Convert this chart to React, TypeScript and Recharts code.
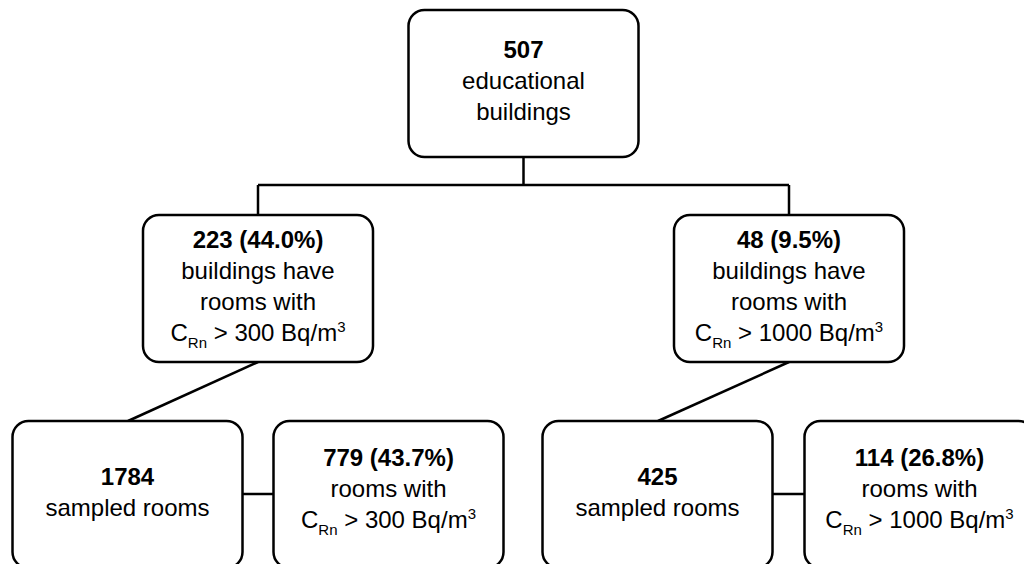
import React from 'react';
import { ScatterChart, Scatter, XAxis, YAxis, ReferenceLine } from 'recharts';

// ---- data ----
const nodeIds = ['all', 'bld300', 'bld1000', 'rooms300', 'hit300', 'rooms1000', 'hit1000'];
const nodeHeads = ['507', '223 (44.0%)', '48 (9.5%)', '1784', '779 (43.7%)', '425', '114 (26.8%)'];
const nodeLines: string[][] = [
  ['educational', 'buildings'],
  ['buildings have', 'rooms with'],
  ['buildings have', 'rooms with'],
  ['sampled rooms'],
  ['rooms with'],
  ['sampled rooms'],
  ['rooms with'],
];
const nodeThresholds: (number | null)[] = [null, 300, 1000, null, 300, null, 1000];

// ---- layout (diagram coordinates, px-like units) ----
const nodeX = [523.5, 258, 789, 127.5, 388.5, 657.5, 919.5];
const nodeY = [83.5, 288.5, 288.5, 494.5, 494.5, 494.5, 494.5];
const nodeTextShift = [-3, -2, -2, -2, -6, -2, -6];
const BOX_W = 230;
const BOX_H = 147;

const edges: [number, number, number, number][] = [
  [523.5, 157, 523.5, 185],
  [258, 185, 789, 185],
  [258, 185, 258, 215],
  [789, 185, 789, 215],
  [258, 362, 128, 421],
  [789, 362, 658, 421],
  [242.5, 494, 273.5, 494],
  [772.5, 494, 804.5, 494],
];

const nodes = nodeIds.map((id, i) => ({
  id,
  x: nodeX[i],
  y: nodeY[i],
  shift: nodeTextShift[i],
  head: nodeHeads[i],
  lines: nodeLines[i],
  threshold: nodeThresholds[i],
}));

const FONT = '"Liberation Sans", Arial, Helvetica, sans-serif';
const FS = 24;
const LH = 31;

const NodeBox = (props: any) => {
  const { cx, cy, payload } = props;
  const lineCount = 1 + payload.lines.length + (payload.threshold != null ? 1 : 0);
  const first = cy - ((lineCount - 1) / 2) * LH + 8 + payload.shift;
  const items: React.ReactNode[] = [];
  items.push(
    <text key="h" x={cx} y={first} textAnchor="middle" fontFamily={FONT} fontSize={FS} fontWeight="bold" fill="#000">
      {payload.head}
    </text>
  );
  payload.lines.forEach((l: string, i: number) => {
    items.push(
      <text key={'l' + i} x={cx} y={first + (i + 1) * LH} textAnchor="middle" fontFamily={FONT} fontSize={FS} fill="#000">
        {l}
      </text>
    );
  });
  if (payload.threshold != null) {
    const y = first + (lineCount - 1) * LH;
    items.push(
      <text key="t" x={cx} y={y} textAnchor="middle" fontFamily={FONT} fontSize={FS} fill="#000">
        C
        <tspan fontSize={15} dy={7}>Rn</tspan>
        <tspan fontSize={FS} dy={-7}>{` > ${payload.threshold} Bq/m`}</tspan>
        <tspan fontSize={15} dy={-9}>3</tspan>
      </text>
    );
  }
  return (
    <g>
      <rect
        x={cx - BOX_W / 2}
        y={cy - BOX_H / 2}
        width={BOX_W}
        height={BOX_H}
        rx={16}
        ry={16}
        fill="#fff"
        stroke="#000"
        strokeWidth={2.5}
      />
      {items}
    </g>
  );
};

export default function App() {
  return (
    <div style={{ position: 'absolute', left: 0, top: 0, width: 1024, height: 564, background: '#fff' }}>
      <ScatterChart width={1024} height={564} margin={{ top: 0, right: 0, bottom: 0, left: 0 }}>
        <XAxis type="number" dataKey="x" domain={[0, 1024]} hide />
        <YAxis type="number" dataKey="y" domain={[0, 564]} reversed hide />
        {edges.map((e, i) => (
          <ReferenceLine
            key={i}
            segment={[{ x: e[0], y: e[1] }, { x: e[2], y: e[3] }]}
            stroke="#000"
            strokeWidth={2.5}
            ifOverflow="visible"
          />
        ))}
        <Scatter data={nodes} shape={(p: any) => <NodeBox {...p} />} isAnimationActive={false} />
      </ScatterChart>
    </div>
  );
}
